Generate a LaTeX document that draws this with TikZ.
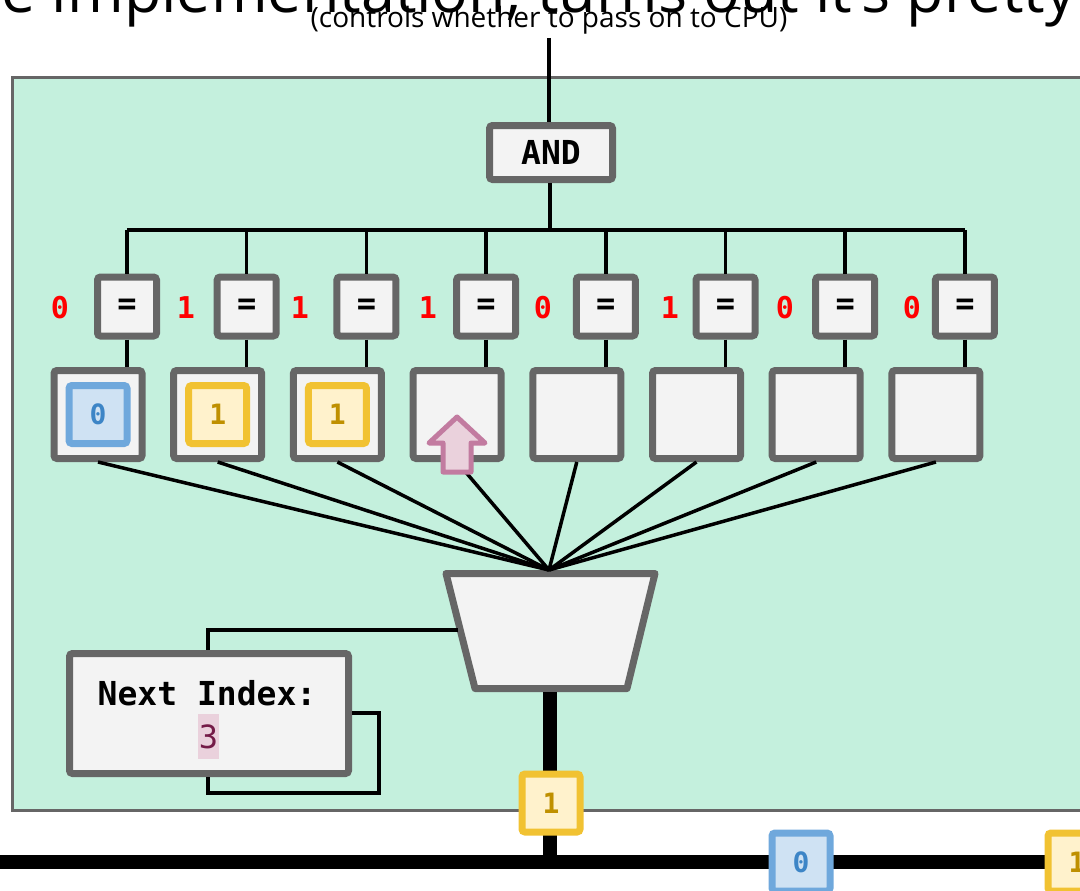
\documentclass[tikz,border=0pt]{standalone}
\usepackage{fontspec}
\setmainfont{Open Sans}
\newfontfamily\monof{DejaVu Sans Mono}
\definecolor{panelfill}{HTML}{C4F0DD}
\definecolor{boxgray}{HTML}{666666}
\definecolor{boxfill}{HTML}{F3F3F3}
\definecolor{cellblue}{HTML}{6FA8DC}
\definecolor{cellbluefill}{HTML}{CFE2F3}
\definecolor{txtblue}{HTML}{3D85C6}
\definecolor{cellyel}{HTML}{F1C232}
\definecolor{cellyelfill}{HTML}{FFF2CC}
\definecolor{txtyel}{HTML}{BF9000}
\definecolor{pinkline}{HTML}{C27BA0}
\definecolor{pinkfill}{HTML}{EAD1DC}
\definecolor{idxpurple}{HTML}{741B47}
\tikzset{
  gbox/.style={draw=boxgray, fill=boxfill, line width=7pt, rounded corners=3pt, inner sep=0pt},
  eqbox/.style={gbox, minimum size=59pt, font=\monof\bfseries\fontsize{32}{32}\selectfont},
  membox/.style={gbox, minimum size=88pt},
  cellfont/.style={font=\monof\bfseries\fontsize{28}{28}\selectfont},
  bluecell/.style={draw=cellblue, fill=cellbluefill, line width=7pt, rounded corners=3pt, minimum size=58pt, inner sep=0pt, text=txtblue, cellfont},
  yelcell/.style={draw=cellyel, fill=cellyelfill, line width=7pt, rounded corners=3pt, minimum size=58pt, inner sep=0pt, text=txtyel, cellfont},
  redlbl/.style={text=red, font=\monof\bfseries\fontsize{30}{30}\selectfont, inner sep=0pt},
  wire/.style={line width=3.5pt, draw=black},
  thickwire/.style={line width=14pt, draw=black},
}
\begin{document}
\begin{tikzpicture}[x=1pt, y=-1pt]
\useasboundingbox (0,0) rectangle (1080,891);
\clip (0,0) rectangle (1080,891);
% title fragment and subtitle
\node[anchor=base east, inner sep=0pt, font=\fontsize{61}{61}\selectfont] (title) at (1076,13) {e implementation, turns out it's pretty};
\node[inner sep=0pt, font=\fontsize{28}{28}\selectfont] (sub) at (549,20) {(controls whether to pass on to CPU)};
% panel
\path[draw=boxgray, fill=panelfill, line width=3pt] (12,78) rectangle (1100,810);
\coordinate (subfoot) at (549,38);
% AND box
\node[gbox, minimum width=123pt, minimum height=54pt, font=\monof\bfseries\fontsize{33}{33}\selectfont] (and) at (551,152.5) {AND};
\draw[wire] (subfoot) -- (and.north -| subfoot);
\coordinate (busL) at (127,230);
\coordinate (busR) at (965,230);
\coordinate (andfoot) at (550,230);
\draw[wire] (and.south -| andfoot) -- (andfoot);
\draw[wire] (busL) -- (busR);
% mux
\coordinate (muxtop) at (549,570);
\path[draw=boxgray, fill=boxfill, line width=7pt, line join=round]
  (446,573.5) -- (655,573.5) -- (627,688.5) -- (475,688.5) -- cycle;
\coordinate (muxsel) at (458,630);
\coordinate (muxout) at (550,692);
% eq and memory boxes
\foreach \i/\x in {0/127,1/246.7,2/366.4,3/486.1,4/605.8,5/725.5,6/845.2,7/964.9}{
  \node[eqbox] (eq\i) at (\x,306.5) {=};
  \node[membox] (mem\i) at ({\x-29},414.5) {};
  \coordinate (bus\i) at (\x,230);
  \draw[wire] (bus\i) -- (eq\i.north);
  \draw[wire] (eq\i.south) -- (mem\i.north -| eq\i.south);
  \draw[wire] (mem\i.south) -- (muxtop);
}
% red match labels
\foreach \j/\x/\v in {0/60/0,1/186/1,2/300/1,3/428/1,4/543/0,5/670/1,6/785/0,7/912/0}{
  \node[redlbl] (r\j) at (\x,308) {\v};
}
% memory contents
\node[bluecell] (c0) at (mem0) {0};
\node[yelcell] (c1) at (mem1) {1};
\node[yelcell] (c2) at (mem2) {1};
% pointer arrow
\path[draw=pinkline, fill=pinkfill, line width=5pt, line join=round]
  (457,417) -- (485,443) -- (471,443) -- (471,472) -- (443,472) -- (443,443) -- (429,443) -- cycle;
% next index register
\node[gbox, minimum width=279pt, minimum height=120pt] (idx) at (209,713.5) {};
\node[inner sep=0pt, font=\monof\bfseries\fontsize{33}{33}\selectfont] (idxlbl) at (207,693) {Next Index:};
\node[fill=pinkfill, inner sep=0pt, text=idxpurple, minimum width=21pt, minimum height=45pt, font=\monof\fontsize{32}{32}\selectfont] (idxval) at (208.5,736.5) {3};
\coordinate (selc) at (208,630);
\draw[wire] (muxsel) -- (selc) -- (idx.north -| selc);
\coordinate (fb1) at (379,713);
\coordinate (fb2) at (379,793);
\coordinate (fb3) at (208,793);
\draw[wire] (idx.east |- fb1) -- (fb1) -- (fb2) -- (fb3) -- (idx.south -| fb3);
% output and bus
\coordinate (busJ) at (550,862);
\draw[thickwire] (muxout) -- (busJ);
\coordinate (mainL) at (-10,862);
\coordinate (mainR) at (1090,862);
\draw[thickwire] (mainL) -- (mainR);
\node[yelcell] (out) at (551,803) {1};
\node[bluecell] (t0) at (801,862) {0};
\node[yelcell] (t1) at (1077,862) {1};
\end{tikzpicture}
\end{document}
